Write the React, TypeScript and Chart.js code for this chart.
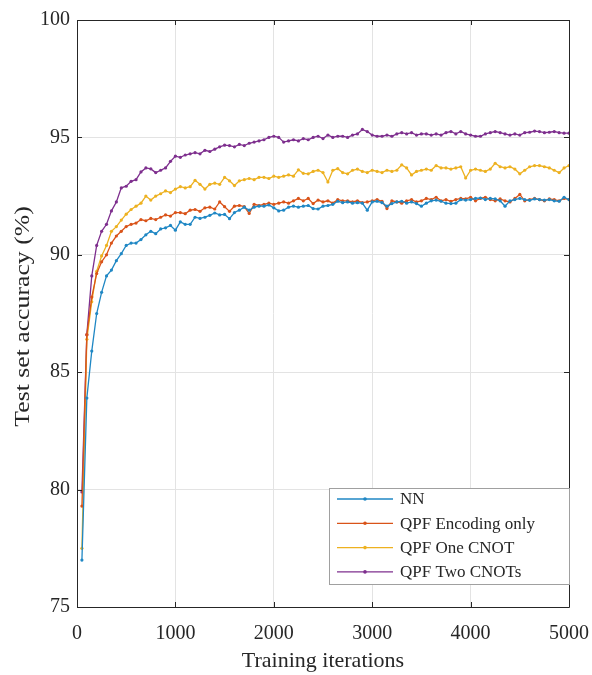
import React, { useEffect, useRef } from "react";
import { Chart, registerables } from "chart.js";

Chart.register(...registerables);

const iterations: number[] = Array.from({ length: 100 }, (_, i) => (i + 1) * 50);

const nnValues = [
  77.0, 83.9, 85.9, 87.5, 88.4, 89.1, 89.35, 89.75, 90.05, 90.4,
  90.5, 90.5, 90.65, 90.85, 91.0, 90.9, 91.1, 91.15, 91.25, 91.05,
  91.4, 91.3, 91.3, 91.6, 91.55, 91.6, 91.68, 91.78, 91.7, 91.72,
  91.54, 91.8, 91.9, 92.03, 91.9, 92.03, 92.07, 92.07, 92.12, 92.0,
  91.87, 91.9, 92.03, 92.07, 92.03, 92.07, 92.1, 91.97, 91.95, 92.07,
  92.1, 92.15, 92.28, 92.22, 92.25, 92.2, 92.22, 92.2, 91.9, 92.25,
  92.28, 92.22, 92.07, 92.18, 92.25, 92.28, 92.2, 92.25, 92.18, 92.07,
  92.2, 92.3, 92.33, 92.28, 92.2, 92.18, 92.2, 92.35, 92.33, 92.35,
  92.4, 92.42, 92.35, 92.4, 92.38, 92.3, 92.07, 92.3, 92.35, 92.4,
  92.35, 92.32, 92.38, 92.35, 92.33, 92.35, 92.3, 92.28, 92.45, 92.35,
];

const encodingOnlyValues = [
  79.3, 86.6, 88.2, 89.2, 89.7, 90.0, 90.5, 90.8, 91.0, 91.2,
  91.3, 91.35, 91.5, 91.45, 91.55, 91.5, 91.6, 91.7, 91.65, 91.8,
  91.8, 91.75, 91.9, 91.93, 91.85, 92.0, 92.03, 91.95, 92.25, 92.05,
  91.85, 92.07, 92.1, 92.05, 91.76, 92.15, 92.1, 92.15, 92.2, 92.15,
  92.2, 92.25, 92.2, 92.3, 92.4, 92.3, 92.4, 92.18, 92.33, 92.25,
  92.3, 92.2, 92.35, 92.3, 92.3, 92.25, 92.3, 92.22, 92.25, 92.3,
  92.35, 92.28, 91.97, 92.3, 92.25, 92.2, 92.3, 92.35, 92.25, 92.3,
  92.4, 92.35, 92.45, 92.3, 92.35, 92.28, 92.35, 92.4, 92.38, 92.45,
  92.3, 92.4, 92.45, 92.35, 92.3, 92.38, 92.3, 92.25, 92.4, 92.57,
  92.3, 92.35, 92.4, 92.35, 92.3, 92.38, 92.35, 92.3, 92.4, 92.35,
];

const oneCnotValues = [
  77.5, 86.4, 88.0, 89.3, 89.95, 90.4, 91.0, 91.2, 91.48, 91.73,
  91.93, 92.07, 92.2, 92.5, 92.33, 92.5, 92.6, 92.72, 92.65, 92.8,
  92.9, 92.85, 92.9, 93.17, 93.0, 92.8, 93.0, 93.05, 93.0, 93.3,
  93.15, 92.95, 93.15, 93.2, 93.25, 93.2, 93.3, 93.3, 93.25, 93.35,
  93.3, 93.35, 93.4, 93.35, 93.62, 93.47, 93.45, 93.55, 93.6, 93.5,
  93.1, 93.6, 93.67, 93.5, 93.45, 93.6, 93.65, 93.55, 93.5, 93.6,
  93.55, 93.5, 93.6, 93.55, 93.6, 93.83, 93.7, 93.4, 93.55, 93.6,
  93.65, 93.6, 93.8, 93.7, 93.7, 93.65, 93.7, 93.75, 93.27, 93.6,
  93.65, 93.6, 93.55, 93.65, 93.9, 93.75, 93.7, 93.75, 93.65, 93.45,
  93.6, 93.75, 93.8, 93.8, 93.75, 93.7, 93.6, 93.5, 93.7, 93.8,
];

const twoCnotsValues = [
  79.9, 86.6, 89.1, 90.4, 91.0, 91.3, 91.87, 92.25, 92.85, 92.92,
  93.13, 93.2, 93.53, 93.7, 93.66, 93.5, 93.6, 93.7, 93.98, 94.2,
  94.15, 94.25, 94.3, 94.35, 94.3, 94.45, 94.4, 94.5, 94.6, 94.67,
  94.65, 94.6, 94.7, 94.65, 94.75, 94.8, 94.85, 94.9, 95.0, 95.05,
  95.0, 94.8, 94.85, 94.9, 94.85, 94.95, 94.9, 95.0, 95.05, 94.95,
  95.1, 95.0, 95.05, 95.05, 95.0, 95.1, 95.15, 95.34, 95.25, 95.1,
  95.05, 95.05, 95.1, 95.05, 95.15, 95.2, 95.15, 95.2, 95.1, 95.15,
  95.15, 95.1, 95.15, 95.1, 95.2, 95.25, 95.15, 95.25, 95.15, 95.1,
  95.05, 95.05, 95.15, 95.2, 95.25, 95.2, 95.15, 95.1, 95.15, 95.1,
  95.2, 95.22, 95.27, 95.25, 95.2, 95.22, 95.25, 95.2, 95.18, 95.18,
];

const seriesLabels = ["NN", "QPF Encoding only", "QPF One CNOT", "QPF Two CNOTs"];
const seriesColors = ["#1f87c4", "#d95319", "#edb120", "#7e2f8e"];
const xTicks = [0, 1000, 2000, 3000, 4000, 5000];
const yTicks = [75, 80, 85, 90, 95, 100];
const xTitle = "Training iterations";
const yTitle = "Test set accuracy (%)";

const FONT = "'Liberation Serif', 'Times New Roman', serif";
const AXIS_COLOR = "#262626";

const framePlugin = {
  id: "matlabFrame",
  afterDraw(chart: any) {
    const ctx = chart.ctx;
    const { left, right, top, bottom } = chart.chartArea;
    const xs = chart.scales.x;
    const ys = chart.scales.y;
    ctx.save();
    ctx.strokeStyle = AXIS_COLOR;
    ctx.lineWidth = 1;
    ctx.beginPath();
    ctx.rect(Math.round(left) + 0.5, Math.round(top) + 0.5, Math.round(right - left), Math.round(bottom - top));
    ctx.stroke();
    const tl = 5;
    ctx.beginPath();
    xTicks.forEach((v) => {
      const px = Math.round(xs.getPixelForValue(v)) + 0.5;
      ctx.moveTo(px, bottom);
      ctx.lineTo(px, bottom - tl);
      ctx.moveTo(px, top);
      ctx.lineTo(px, top + tl);
    });
    yTicks.forEach((v) => {
      const py = Math.round(ys.getPixelForValue(v)) + 0.5;
      ctx.moveTo(left, py);
      ctx.lineTo(left + tl, py);
      ctx.moveTo(right, py);
      ctx.lineTo(right - tl, py);
    });
    ctx.stroke();

    // y-axis title (slightly stretched along its length, as in the reference)
    ctx.save();
    ctx.translate(23, (top + bottom) / 2 + 3);
    ctx.rotate(-Math.PI / 2);
    ctx.scale(1.17, 1);
    ctx.font = `22px ${FONT}`;
    ctx.fillStyle = AXIS_COLOR;
    ctx.textAlign = "center";
    ctx.textBaseline = "middle";
    ctx.fillText(yTitle, 0, 0);
    ctx.restore();

    // legend
    const boxRight = Math.round(right) + 0.5;
    const boxLeft = 329.5;
    const boxTop = 488.5;
    const boxBottom = 584.5;
    ctx.fillStyle = "#ffffff";
    ctx.fillRect(boxLeft, boxTop, boxRight - boxLeft, boxBottom - boxTop);
    ctx.strokeStyle = "#a0a0a0";
    ctx.strokeRect(boxLeft, boxTop, boxRight - boxLeft, boxBottom - boxTop);
    ctx.font = `17px ${FONT}`;
    ctx.textBaseline = "middle";
    ctx.textAlign = "left";
    chart.data.datasets.forEach((ds: any, i: number) => {
      const y = 499 + i * 24.3;
      ctx.strokeStyle = ds.borderColor;
      ctx.lineWidth = 1.3;
      ctx.beginPath();
      ctx.moveTo(337, y);
      ctx.lineTo(393, y);
      ctx.stroke();
      ctx.fillStyle = ds.borderColor;
      ctx.beginPath();
      ctx.arc(365, y, 1.8, 0, Math.PI * 2);
      ctx.fill();
      ctx.fillStyle = AXIS_COLOR;
      ctx.fillText(ds.label, 400, y + 1);
    });
    ctx.restore();
  },
};

export default function App() {
  const canvasRef = useRef<HTMLCanvasElement | null>(null);

  useEffect(() => {
    const canvas = canvasRef.current;
    if (!canvas) return;
    const allValues = [nnValues, encodingOnlyValues, oneCnotValues, twoCnotsValues];
    const chart = new Chart(canvas, {
      type: "line",
      data: {
        datasets: allValues.map((vals, i) => ({
          label: seriesLabels[i],
          data: vals.map((v, j) => ({ x: iterations[j], y: v })),
          borderColor: seriesColors[i],
          backgroundColor: seriesColors[i],
          pointBackgroundColor: seriesColors[i],
          pointBorderColor: seriesColors[i],
          borderWidth: 1.3,
          pointRadius: 1.6,
          pointBorderWidth: 0,
          tension: 0,
          fill: false,
        })),
      },
      options: {
        responsive: false,
        animation: false,
        devicePixelRatio: 1,
        layout: { padding: { top: 20, right: 23, bottom: 0, left: 0 } },
        plugins: {
          legend: { display: false },
          tooltip: { enabled: false },
        },
        scales: {
          x: {
            type: "linear",
            min: 0,
            max: 5000,
            afterBuildTicks: (scale: any) => {
              scale.ticks = xTicks.map((v) => ({ value: v }));
            },
            afterFit: (scale: any) => {
              scale.height = 68;
              scale.paddingLeft = 0;
              scale.paddingRight = 0;
            },
            ticks: {
              font: { family: FONT, size: 20 },
              color: AXIS_COLOR,
              padding: 15,
              maxRotation: 0,
              autoSkip: false,
              callback: (v: any) => String(v),
            },
            grid: { color: "#e3e3e3", lineWidth: 1, drawTicks: false },
            border: { display: false },
            title: {
              display: true,
              text: xTitle,
              font: { family: FONT, size: 22 },
              color: AXIS_COLOR,
              padding: { top: 0, bottom: 1 },
            },
          },
          y: {
            type: "linear",
            min: 75,
            max: 100,
            afterBuildTicks: (scale: any) => {
              scale.ticks = yTicks.map((v) => ({ value: v }));
            },
            afterFit: (scale: any) => {
              scale.width = 77;
              scale.paddingTop = 0;
              scale.paddingBottom = 0;
            },
            ticks: {
              font: { family: FONT, size: 20 },
              color: AXIS_COLOR,
              padding: 7,
              autoSkip: false,
              callback: (v: any) => String(v),
            },
            grid: { color: "#e3e3e3", lineWidth: 1, drawTicks: false },
            border: { display: false },
            title: { display: false },
          },
        },
      },
      plugins: [framePlugin],
    });
    return () => chart.destroy();
  }, []);

  return (
    <div style={{ position: "absolute", left: 0, top: 0, width: 592, height: 675, background: "#fff" }}>
      <canvas ref={canvasRef} width={592} height={675} style={{ width: 592, height: 675 }} />
    </div>
  );
}
